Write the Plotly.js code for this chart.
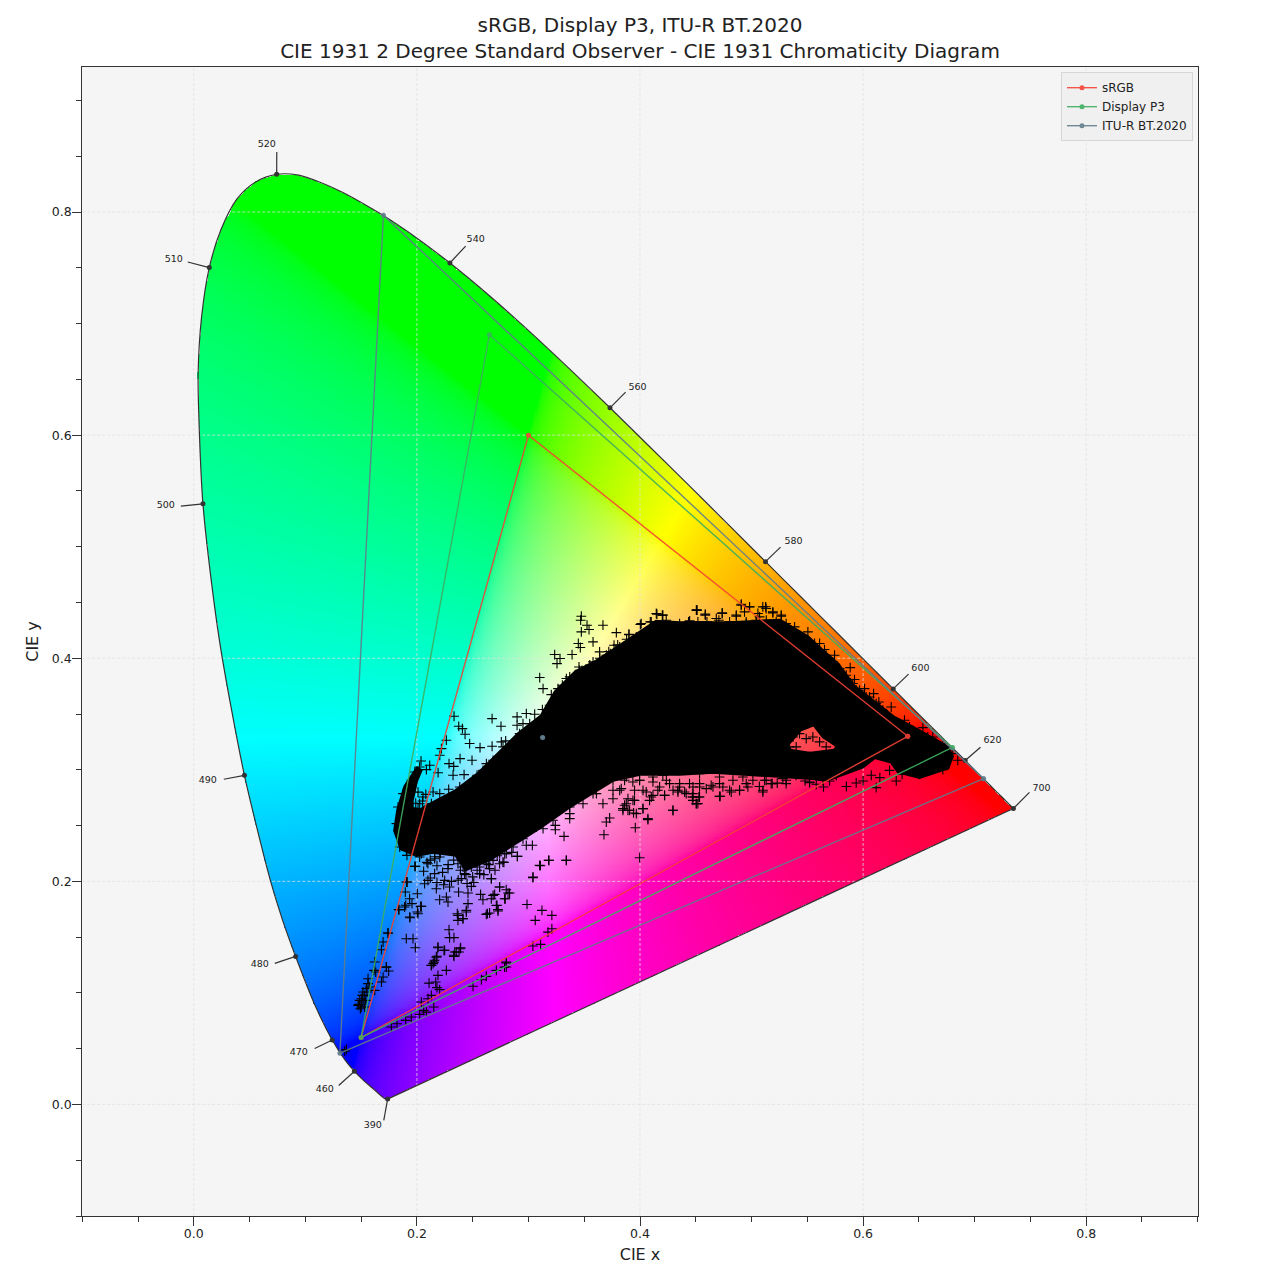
<!DOCTYPE html>
<html>
<head>
<meta charset="utf-8">
<script src="https://cdn.plot.ly/plotly-3.0.1.min.js"></script>
<style>html,body{margin:0;padding:0;background:#fff}#c{width:1280px;height:1280px}</style>
</head>
<body>
<div id="c"></div>
<script>
// CIE 1931 2 degree spectral locus, 380-700 nm
const locusX = [.1741,.1740,.1738,.1736,.1733,.1730,.1726,.1721,.1714,.1703,.1689,.1669,.1644,.1611,.1566,.1510,.1440,.1355,.1241,.1096,.0913,.0795,.0687,.0568,.0454,.0340,.0235,.0150,.0082,.0052,.0039,.0070,.0139,.0245,.0389,.0555,.0743,.0940,.1142,.1345,.1547,.1738,.1929,.2296,.2658,.3016,.3373,.3731,.4087,.4441,.4788,.5125,.5448,.5752,.6029,.6270,.6482,.6658,.6801,.6915,.7006,.7079,.7140,.7190,.7230,.7260,.7283,.7300,.7311,.7320,.7327,.7334,.7340,.7344,.7346,.7347];
const locusY = [.0050,.0050,.0049,.0049,.0048,.0048,.0048,.0048,.0051,.0058,.0069,.0086,.0109,.0138,.0177,.0227,.0297,.0399,.0578,.0868,.1327,.1655,.2007,.2470,.2950,.3530,.4127,.4750,.5384,.5975,.6548,.7060,.7502,.7845,.8120,.8270,.8338,.8330,.8262,.8170,.8059,.7945,.7816,.7543,.7243,.6923,.6589,.6245,.5896,.5547,.5202,.4866,.4544,.4242,.3965,.3725,.3514,.3340,.3197,.3083,.2993,.2920,.2859,.2809,.2770,.2740,.2717,.2700,.2689,.2680,.2673,.2666,.2660,.2656,.2654,.2653];

// Labelled wavelengths
const waveLabels = ['390','460','470','480','490','500','510','520','540','560','580','600','620','700'];
const waveX = [.1738,.1440,.1241,.0913,.0454,.0082,.0139,.0743,.2296,.3731,.5125,.6270,.6915,.7347];
const waveY = [.0049,.0297,.0578,.1327,.2950,.5384,.7502,.8338,.7543,.6245,.4866,.3725,.3083,.2653];
const leadX = [.1703,.1299,.1084,.0726,.0269,-.0116,-.0054,.0744,.2437,.3871,.5260,.6407,.7052,.7491];
const leadY = [-.0143,.0170,.0502,.1265,.2915,.5363,.7552,.8538,.7695,.6386,.4996,.3857,.3202,.2798];
const textX = [.1604,.1174,.0941,.0591,.0125,-.0251,-.0179,.0654,.2527,.3978,.5376,.6514,.7160,.7599];
const textY = [-.0188,.0135,.0466,.1256,.2906,.5372,.7570,.8601,.7749,.6430,.5049,.3910,.3265,.2834];

// Colourspace primaries (closed triangles)
const srgbX = [.64,.30,.15,.64], srgbY = [.33,.60,.06,.33];
const p3X = [.68,.265,.15,.68], p3Y = [.32,.69,.06,.32];
const bt2020X = [.708,.170,.131,.708], bt2020Y = [.292,.797,.046,.292];
const whiteX = [.3127], whiteY = [.329];

// Outline of the solid mass of dataset points
const massX = [.2052,.2204,.2357,.2563,.2679,.2921,.3127,.3253,.3432,.3611,.3817,.4023,.4149,.4355,.4534,.4803,.5251,.5493,.5609,.5762,.5905,.6084,.6263,.6505,.6747,.6780,.6747,.6505,.6326,.6263,.6102,.5986,.5672,.5520,.5520,.5744,.5806,.5654,.5565,.5430,.5296,.5341,.5520,.5520,.5341,.5009,.4651,.4355,.3996,.3754,.3522,.3342,.3100,.2858,.2652,.2446,.2357,.2142,.1998,.1873,.1819,.1846,.1909,.1998,.2025,.1980,.1940,.1940,.2052,.2052];
const massY = [.2637,.2726,.2798,.2955,.3067,.3310,.3471,.3686,.3865,.3955,.4090,.4224,.4314,.4300,.4300,.4300,.4323,.4179,.4072,.3937,.3740,.3590,.3460,.3330,.3190,.3120,.3031,.2951,.2996,.3085,.3130,.3040,.2924,.2942,.3130,.3157,.3211,.3309,.3426,.3372,.3220,.3157,.3130,.2942,.2951,.2978,.2996,.2978,.2978,.2924,.2789,.2670,.2500,.2341,.2215,.2126,.2251,.2278,.2251,.2305,.2457,.2637,.2843,.2978,.3013,.2906,.2726,.2640,.2620,.2637];

// Individually readable dataset points
const pointX = [.3474,.3468,.3525,.3543,.3474,.3668,.3788,.3901,.4003,.4092,.4152,.4200,.4445,.4505,.3579,.3447,.3465,.3767,.3638,.3734,.3235,.3391,.3283,.3256,.3453,.3101,.3131,.3205,.3265,.3304,.3370,.2333,.2674,.2754,.2898,.2981,.3056,.3125,.2375,.2408,.2432,.2898,.2951,.2264,.2473,.2566,.2674,.2757,.2796,.2220,.2205,.2387,.2494,.2288,.2330,.2037,.2115,.2085,.2190,.1981,.2324,.2423,.2539,.2623,.2285,.2384,.2473,.2145,.2205,.2220,.2055,.2384,.2548,
.4296,.4071,.3728,.3698,.3958,.3677,.3319,.3241,.3241,.3370,.3370,.2901,.2981,.3035,.3997,.3184,.3340,.3107,.3041,.2987,.2817,.2742,.2787,.2683,.2712,.2563,.2668,.1981,.1906,.3877,.3847,.3892,.3967,.3937,.4027,.4101,.4221,.4340,.4475,.4505,.3758,.3668,.3609,.3489,.3758,.3579,.3370,.3220,.3131,.2951,.2862,.2787,.2623,
.1986,.1911,.1914,.1896,.2004,.1935,.1956,.1890,.1836,.2034,.2004,.1938,.1741,.1905,.1965,.1986,.1726,.2069,.2099,.2174,.2204,.2279,.2264,.2293,.2374,.2458,.2488,.2571,.2592,.2667,.2697,.2741,.2801,.2831,.2792,.2718,.2727,.2622,.2652,.3121,.3210,.3061,.3040,.3100,.3181,.3339,.2900,.2771,.2667,.2458,.2443,.2413,.2362,.2368,.2288,.2293,.2332,.2189,.2243,.2392,.2353,.2332,.2174,.2153,.2129,.2801,.3040,.3109,.3175,.3210,.2786,.2264,.2159,.2249,.2428,.2562,.2398,.2279,.2099,.2368,.2488,.2741,.2801,.2652,.2159,.2040,
.1840,.1900,.1936,.2010,.2040,.1741,.1697,.1682,.1622,.1616,.1726,.1747,.1631,.1697,.1682,.1562,.1622,.1502,.1481,.1517,.1502,.1532,.1517,.1547,.1562,.1473,.1493,.1541,.1553,.1577,.1511,.1487,.1532,.1368,.1353,.1771,.1822,.1900,.1950,.2025,.2061,.2151,.2040,.2100,.2130,.2085,.2503,.2578,.2622,.2712,.2802,.2802,.2109,.2169,.2189,.2180,.2204,.2130,.2159,.2180,.2145,.2189,.2249,.2330,.2339,.2389,.2378,.2369,.2413,.2443,.2632,.2727,
.4510,.4585,.4737,.4908,.4982,.5126,.4863,.5057,.5191,.5266,.4439,.4684,.5386,.5505,.5565,.5654,.5744,.5884,.5923,.6013,.6094,.6141,.6252,.6371,.6536,.6297,.6446,.6625,.6715,.6804,.6849,.5759,.5849,.5669,.5430,.5341,.5610,.5938,.6058,.6177,
.6117,.5938,.5645,.5520,.5311,.5185,.5102,.4893,.4803,.4719,.4528,.4504,.4469,.4400,.4654,.4952,.6297,.6506,.6715,.6237,.6073,.5759,.5639,.5400,.5117,.4713,.4534,.5341,.5430,.5505,.5550,.5669,
.2683,.2772,.2862,.2921,.3011,.3131,.3190,.3310,.3340,.3459,.3579,.3698,.3818,.3967,.2593,.2503,.2458,.2354,.2264,.2145,.2130,.2025,.2055,.1816,.1831,.1876,.1951,.2025,.3250,.3071,.2951,.2802,.2683,.2563,.2414,.2205,.2025,.1906,.1846,
.3862,.3936,.3832,.3951,.3892,.3951,.3862,.3847,.3907,.3942,.4026,.4086,.4116,.4056,.4160,.4220,.4116,.4205,.4265,.4355,.4340,.4414,.4474,.4534,.4474,.4519,.4713,.4594,.4638,.4534,.4444,.4743,.4818,.4892,.4967,.5101,.5176,.5310,.5520,.4833,.4922,.5012,.5131,.5281,.5400,.5490,.4295,.4071,.4713,.4355,.4534,.3996,.3877,.4175,.4056,
.3519,.3638,.3758,.3877,.3997,.4116,.4236,.4355,.4475,.3609,.3818,.4027,.4176,.4296,.3429,.3340,.3280,.3190,.3131,.3041,.2981,.2921,.2742,.2653,.2563,
.4011,.3901,.4101,.4146,.4205,.4235,.4355,.4435,.4510,.4585,.4519,.4600,.4707,.4737,.4863,.4907,.4982,.4937,.4803,.4952,.5101,.5131,.5191,.5266,.5072,.5310,.5042,
.4952,.5042,.5132,.5221,.5311,.5400,.5460,.5520,.5580,.5669,.5729,.5789,.5849,.5908,.5968,.6028,.6117,.6207,.6326,.6416,.6491,.6580,.6655,.6745,
.5371,.5430,.5490,.5610,.5699,.5400,.5281,.5789];
const pointY = [.4377,.4341,.4296,.4257,.4236,.4296,.4230,.4212,.4302,.4326,.4395,.4386,.4335,.4431,.4147,.4132,.4096,.4117,.4057,.4042,.4033,.4033,.3997,.3952,.3922,.3827,.3728,.3674,.3728,.3758,.3833,.3480,.3459,.3390,.3474,.3504,.3498,.3540,.3390,.3369,.3318,.3399,.3414,.3265,.3235,.3199,.3211,.3250,.3259,.3190,.3130,.3100,.3085,.3055,.3031,.3079,.3040,.3001,.2974,.2980,.2951,.2957,.2951,.3055,.2825,.2846,.2876,.2801,.2786,.2711,.2756,.2771,.2816,
.2637,.2553,.2568,.2532,.2481,.2418,.2403,.2502,.2463,.2562,.2607,.2224,.2323,.2323,.2212,.2188,.2188,.2140,.2039,.1793,.1895,.1949,.1844,.1874,.1784,.2069,.2024,.2134,.1994,.2696,.2652,.2637,.2607,.2726,.2652,.2756,.2771,.2816,.2756,.2696,.2741,.2696,.2846,.2696,.2816,.2786,.2666,.2547,.2472,.2382,.2308,.2248,.2158,
.2134,.2233,.1994,.1904,.1889,.1844,.1800,.1770,.1746,.1776,.1725,.1674,.1536,.1486,.1486,.1405,.1231,.1979,.2009,.1934,.1835,.1815,.1859,.1949,.1904,.1895,.1955,.1883,.1835,.1844,.1883,.1949,.1925,.1895,.1844,.1785,.1734,.1704,.1716,.1740,.1695,.1650,.2033,.2143,.2188,.2188,.2224,.2173,.2024,.1800,.1725,.1665,.1710,.1650,.1566,.1495,.1495,.1405,.1381,.1405,.1366,.1327,.1321,.1276,.1246,.1276,.1420,.1435,.1545,.1575,.1231,.1202,.2069,.2009,.2069,.2069,.2024,.2114,.2158,.2158,.2128,.2158,.2248,.2114,.2203,.2248,
.1746,.1785,.1680,.1710,.1776,.1537,.1456,.1387,.1277,.1202,.1232,.1196,.1187,.1142,.1097,.1127,.1023,.0873,.0897,.0918,.0948,.0978,.1008,.1038,.1083,.0888,.0858,.0933,.1008,.1053,.0978,.0933,.0873,.0493,.0478,.0694,.0724,.0754,.0784,.0807,.0843,.0873,.0918,.0948,.0978,.0828,.1059,.1118,.1148,.1202,.1268,.1232,.1088,.1097,.1157,.1047,.1029,.1247,.1292,.1328,.1262,.1411,.1382,.1337,.1367,.1396,.1367,.1695,.1666,.1740,.1710,.1746,
.4431,.4386,.4401,.4484,.4461,.4461,.4377,.4401,.4407,.4377,.4326,.4356,.4281,.4236,.4132,.4078,.4027,.3916,.3809,.3728,.3683,.3608,.3563,.3444,.3378,.3414,.3354,.3294,.3235,.3145,.3085,.3892,.3818,.3967,.4206,.4251,.4132,.3713,.3653,.3534,
.2840,.2882,.2846,.2885,.2906,.2876,.2816,.2816,.2816,.2762,.2756,.2696,.2756,.2801,.2846,.2876,.2900,.2960,.3001,.2995,.2951,.2951,.2906,.2951,.2906,.2876,.2846,.3205,.3384,.3414,.3294,.3205,
.3085,.3205,.3235,.3324,.3414,.3459,.3578,.3743,.3818,.3892,.3967,.4027,.4102,.4191,.2995,.2876,.2816,.2696,.2666,.2637,.2696,.2696,.2637,.2517,.2666,.2786,.2906,.3025,.2637,.2487,.2427,.2308,.2188,.2128,.2128,.2218,.2218,.2278,.2308,
.2906,.2891,.2831,.2816,.2741,.2726,.2682,.2637,.2637,.2613,.2652,.2726,.2771,.2801,.2816,.2771,.2891,.2951,.2876,.2846,.2801,.2786,.2786,.2756,.2726,.2697,.2762,.2831,.2861,.2876,.2876,.2846,.2801,.2816,.2846,.2801,.2876,.2876,.2891,.2906,.2936,.2906,.2906,.2921,.2966,.2966,.2637,.2562,.2936,.2996,.2966,.2906,.2966,.2996,.2996,
.2936,.2906,.2906,.2936,.2906,.2936,.2906,.2876,.2846,.2786,.2816,.2816,.2846,.2816,.2816,.2756,.2696,.2607,.2547,.2517,.2457,.2397,.2248,.2188,.2188,
.4311,.4215,.4326,.4401,.4386,.4341,.4311,.4326,.4431,.4395,.4326,.4326,.4341,.4407,.4386,.4475,.4460,.4416,.4326,.4326,.4460,.4446,.4416,.4386,.4371,.4311,.4326,
.4311,.4341,.4341,.4326,.4281,.4221,.4176,.4132,.4087,.4027,.3967,.3907,.3848,.3773,.3713,.3653,.3593,.3504,.3414,.3384,.3324,.3294,.3235,.3175,
.3294,.3324,.3279,.3250,.3294,.3205,.3205,.3205];

// Points along the edges of the mass
const fringeX = [.2010,.1990,.2050,.2010,.2080,
.2120,.2180,.2230,.2280,.2330,.2390,.2440,.2500,.2540,.2600,.2640,.2700,.2720,.2780,.2850,.2060,.2120,.2180,.2240,.2310,.2370,.2450,.2510,.2090,.2160,.2210,
.3200,.3260,.3330,.3400,.3480,.3550,.3640,.3720,.3800,.3880,.3100,.3000,.2950,.2860,.2800,.2740,.2680,.2620,.2540,.2480,.2420,.2340,
.5480,.5580,.5700,.5850,.6000,.6150,.6350,.6480,.6600,.6700,.5230,.5070];
const fringeY = [.2800,.2700,.2720,.2650,.2780,
.2190,.2140,.2080,.2150,.2190,.2100,.2060,.2040,.2100,.2060,.2150,.2100,.2230,.2170,.2260,.2090,.2030,.1990,.1970,.2000,.2010,.1980,.1990,.2170,.2220,.2250,
.3490,.3620,.3720,.3800,.3890,.3940,.4000,.4060,.4120,.4170,.3430,.3340,.3270,.3190,.3120,.3060,.2990,.2920,.2880,.2830,.2780,.2760,
.2900,.2870,.2900,.2850,.2900,.2930,.2960,.3000,.3020,.3050,.2880,.2850];

// Axis labels and ticks
const gridVals = [0, .2, .4, .6, .8];
const titleLines = ['sRGB, Display P3, ITU-R BT.2020', 'CIE 1931 2 Degree Standard Observer - CIE 1931 Chromaticity Diagram'];

const FONT = 'DejaVu Sans, sans-serif';
const INK = '#333333';

// Chromaticity colour field, masked to the spectral locus
function inside(x, y) {
  let c = false;
  for (let i = 0, j = locusX.length - 1; i < locusX.length; j = i++) {
    if ((locusY[i] > y) !== (locusY[j] > y) &&
        x < (locusX[j] - locusX[i]) * (y - locusY[i]) / (locusY[j] - locusY[i]) + locusX[i]) c = !c;
  }
  return c;
}
function encode(v) { return v <= 0.0031308 ? 12.92 * v : 1.055 * Math.pow(v, 1 / 2.4) - 0.055; }
function chroma(x, y) {
  const X = x / y, Z = (1 - x - y) / y;
  let r = 3.2406 * X - 1.5372 - 0.4986 * Z;
  let g = -0.9689 * X + 1.8758 + 0.0415 * Z;
  let b = 0.0557 * X - 0.2040 + 1.0570 * Z;
  const m = Math.max(r, g, b);
  return [r, g, b].map(v => Math.round(255 * encode(Math.max(0, v / m))));
}
const step = 0.001, fieldX0 = 0, fieldY0 = 0;
const field = [];
for (let j = 0; j < 840; j++) {
  const row = [];
  const y = fieldY0 + j * step;
  for (let i = 0; i < 740; i++) {
    const x = fieldX0 + i * step;
    if (y > 0 && inside(x, y)) { const c = chroma(x, y); row.push([c[0], c[1], c[2], 1]); }
    else row.push([255, 255, 255, 0]);
  }
  field.push(row);
}

const traces = [];
traces.push({type: 'image', colormodel: 'rgba', z: field, x0: fieldX0, y0: fieldY0, dx: step, dy: step, hoverinfo: 'skip'});

// Grid sits above the colour field and below the points
const gridStyle = {color: 'rgba(225,225,225,0.95)', width: 0.8, dash: '3px,2px'};
gridVals.forEach(v => {
  traces.push({type: 'scatter', mode: 'lines', x: [v, v], y: [-.1, .93], line: gridStyle, showlegend: false, hoverinfo: 'skip'});
  traces.push({type: 'scatter', mode: 'lines', x: [-.1, .9], y: [v, v], line: gridStyle, showlegend: false, hoverinfo: 'skip'});
});

// Locus boundary: the smooth curve and the closing purple line
traces.push({type: 'scatter', mode: 'lines', x: locusX, y: locusY,
  line: {color: INK, width: 1.2, shape: 'spline', smoothing: 0.8}, showlegend: false, hoverinfo: 'skip'});
traces.push({type: 'scatter', mode: 'lines', x: [locusX[locusX.length - 1], locusX[0]], y: [locusY[locusY.length - 1], locusY[0]],
  line: {color: INK, width: 1.2}, showlegend: false, hoverinfo: 'skip'});

// Dataset
traces.push({type: 'scatter', mode: 'lines', x: massX, y: massY, fill: 'toself', fillcolor: '#000000',
  line: {color: '#000000', width: 7}, showlegend: false, hoverinfo: 'skip'});
traces.push({type: 'scatter', mode: 'markers', x: pointX.concat(fringeX), y: pointY.concat(fringeY),
  marker: {symbol: 'cross-thin', size: 7, color: '#000', line: {color: '#000', width: 1.1}}, showlegend: false, hoverinfo: 'skip'});

// Wavelength leaders, dots, labels
waveLabels.forEach((w, i) => {
  traces.push({type: 'scatter', mode: 'lines', x: [waveX[i], leadX[i]], y: [waveY[i], leadY[i]],
    line: {color: INK, width: 1.2}, showlegend: false, hoverinfo: 'skip'});
});
traces.push({type: 'scatter', mode: 'markers', x: waveX, y: waveY, marker: {color: INK, size: 5}, showlegend: false, hoverinfo: 'skip'});
traces.push({type: 'scatter', mode: 'text', x: textX, y: textY, text: waveLabels, textposition: 'middle center',
  textfont: {family: FONT, size: 9.5, color: '#222'}, showlegend: false, hoverinfo: 'skip'});

// Colourspaces
[['sRGB', srgbX, srgbY, '#f44336'], ['Display P3', p3X, p3Y, '#3fae60'], ['ITU-R BT.2020', bt2020X, bt2020Y, '#607d8b']].forEach(s => {
  traces.push({type: 'scatter', mode: 'lines+markers', name: s[0], x: s[1], y: s[2],
    line: {color: s[3], width: 1.4}, marker: {color: s[3], size: 5}, opacity: 0.9, hoverinfo: 'skip'});
});
traces.push({type: 'scatter', mode: 'markers', x: whiteX, y: whiteY, marker: {color: '#607d8b', size: 5}, showlegend: false, hoverinfo: 'skip'});

const axisBase = {
  tickmode: 'linear', tick0: 0, dtick: 0.2, tickformat: '.1f', ticks: 'outside', ticklen: 9, tickwidth: 1, tickcolor: INK,
  showline: true, linecolor: INK, linewidth: 1, mirror: true, zeroline: false, showgrid: false,
  tickfont: {family: FONT, size: 12.5, color: '#222'},
  minor: {tick0: 0, dtick: 0.05, ticks: 'outside', ticklen: 5, tickwidth: 1, tickcolor: INK, showgrid: false}
};

const layout = {
  width: 1280, height: 1280, paper_bgcolor: '#ffffff', plot_bgcolor: '#f5f5f5',
  margin: {l: 82, r: 82, t: 67, b: 64, pad: 0},
  title: {text: titleLines.join('<br>'), x: 0.5, xanchor: 'center', y: 0.9748, yanchor: 'middle', font: {family: FONT, size: 20, color: '#222'}},
  xaxis: Object.assign({}, axisBase, {range: [-.1, .9], ticklabelstandoff: -3, title: {text: 'CIE x', font: {family: FONT, size: 16, color: '#222'}, standoff: 8}}),
  yaxis: Object.assign({}, axisBase, {range: [-.1, .93], ticklabelstandoff: -2, title: {text: 'CIE y', font: {family: FONT, size: 16, color: '#222'}, standoff: 9}}),
  legend: {x: 0.9955, y: 0.9955, xanchor: 'right', yanchor: 'top', bgcolor: '#f0f0f0', bordercolor: '#d6d6d6', borderwidth: 1,
    font: {family: FONT, size: 12, color: '#222'}, itemwidth: 30, tracegroupgap: 0},
  showlegend: true
};

Plotly.newPlot('c', traces, layout, {displayModeBar: false, responsive: false});
</script>
</body>
</html>
